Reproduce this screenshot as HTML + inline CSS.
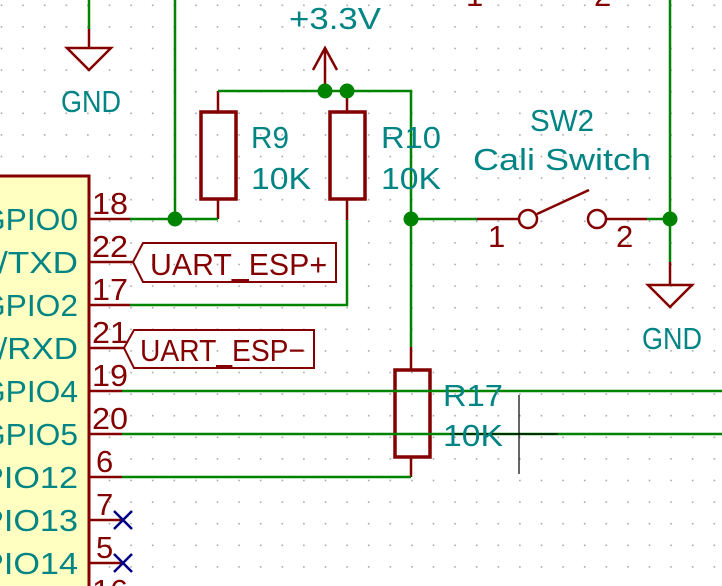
<!DOCTYPE html>
<html><head><style>html,body{margin:0;padding:0;background:#fff;}svg{display:block}</style></head>
<body>
<svg width="722" height="586" viewBox="0 0 722 586" xmlns="http://www.w3.org/2000/svg" font-family="'Liberation Sans', sans-serif">
<defs><pattern id="g" x="0.7" y="4.5" width="21.6" height="21.6" patternUnits="userSpaceOnUse"><rect x="0" y="0" width="1.6" height="1.6" fill="#a8a8a8"/></pattern></defs>
<rect width="722" height="586" fill="#fff"/>
<rect width="722" height="586" fill="url(#g)"/>
<g fill="none" stroke-linecap="butt">
<rect x="-10" y="176" width="99" height="430" fill="#ffffc2" stroke="#840000" stroke-width="3"/>
<g stroke="#840000" stroke-width="2.5">
<line x1="89" y1="219" x2="130" y2="219"/><line x1="89" y1="262" x2="133" y2="262"/>
<line x1="89" y1="305" x2="130" y2="305"/><line x1="89" y1="348" x2="124" y2="348"/>
<line x1="89" y1="391" x2="122" y2="391"/><line x1="89" y1="434" x2="122" y2="434"/>
<line x1="89" y1="477" x2="122" y2="477"/><line x1="89" y1="520" x2="123" y2="520"/>
<line x1="89" y1="563" x2="123" y2="563"/>
<line x1="89" y1="29" x2="89" y2="48"/><polygon points="67,48 111,48 89,70"/>
<line x1="218" y1="91" x2="218" y2="112"/><line x1="218" y1="199" x2="218" y2="219"/>
<rect x="201" y="112" width="35" height="87" stroke-width="3.5"/>
<line x1="347" y1="91" x2="347" y2="112"/><line x1="347" y1="199" x2="347" y2="220"/>
<rect x="330" y="112" width="35" height="87" stroke-width="3.5"/>
<line x1="325" y1="91" x2="325" y2="48"/><polyline points="313,70 325,48 337,70"/>
<line x1="411" y1="347" x2="411" y2="370"/><line x1="411" y1="457" x2="411" y2="477"/>
<rect x="395" y="370" width="35" height="87" stroke-width="3.5"/>
<line x1="477" y1="219" x2="519" y2="219"/><circle cx="528" cy="219" r="9"/>
<line x1="537" y1="214" x2="589" y2="190"/><circle cx="597" cy="219" r="9"/>
<line x1="606" y1="219" x2="647" y2="219"/>
<line x1="670" y1="262" x2="670" y2="285"/><polygon points="648,285 692,285 670,307"/>
<polygon points="133,262 143,243 336,243 336,282 143,282" stroke-width="2"/>
<polygon points="124,348 134,330 314,330 314,368 134,368" stroke-width="2"/>
</g>
<g stroke="#008400" stroke-width="2.5">
<line x1="89" y1="0" x2="89" y2="29"/>
<line x1="175" y1="0" x2="175" y2="219"/>
<polyline points="130,219 218,219"/>
<polyline points="218,91 411,91 411,347"/>
<polyline points="130,305 347,305 347,220"/>
<line x1="122" y1="391" x2="722" y2="391"/><line x1="122" y1="434" x2="722" y2="434"/>
<polyline points="122,477 411,477"/>
<line x1="411" y1="219" x2="477" y2="219"/>
<line x1="647" y1="219" x2="670" y2="219"/>
<line x1="670" y1="0" x2="670" y2="262"/>
</g>
<g fill="#008400"><circle cx="175" cy="219" r="7.5"/><circle cx="325" cy="91" r="7.5"/><circle cx="347" cy="91" r="7.5"/><circle cx="411" cy="219" r="7.5"/><circle cx="670" cy="219" r="7.5"/></g>
<g stroke="#000084" stroke-width="2.5"><path d="M114,511 l18,18 M132,511 l-18,18 M114,554 l18,18 M132,554 l-18,18"/></g>
<g stroke="#000" stroke-width="1.2"><line x1="519" y1="395" x2="519" y2="474"/><line x1="450" y1="434" x2="558" y2="434"/></g>
</g>
<g fill="#008484" font-size="31">
<text x="91" y="112" text-anchor="middle" textLength="60" lengthAdjust="spacingAndGlyphs">GND</text>
<text x="672" y="349" text-anchor="middle" textLength="60" lengthAdjust="spacingAndGlyphs">GND</text>
<text x="335" y="29" text-anchor="middle" textLength="92" lengthAdjust="spacingAndGlyphs">+3.3V</text>
<text x="251" y="148" textLength="38" lengthAdjust="spacingAndGlyphs">R9</text><text x="251" y="189" textLength="60" lengthAdjust="spacingAndGlyphs">10K</text>
<text x="381" y="148" textLength="60" lengthAdjust="spacingAndGlyphs">R10</text><text x="381" y="189" textLength="60" lengthAdjust="spacingAndGlyphs">10K</text>
<text x="443" y="406" textLength="60" lengthAdjust="spacingAndGlyphs">R17</text><text x="443" y="446" textLength="60" lengthAdjust="spacingAndGlyphs">10K</text>
<text x="562" y="131" text-anchor="middle" textLength="64" lengthAdjust="spacingAndGlyphs">SW2</text>
<text x="562" y="170" text-anchor="middle" textLength="178" lengthAdjust="spacingAndGlyphs">Cali Switch</text>
<g text-anchor="end" lengthAdjust="spacingAndGlyphs">
<text x="78" y="230" textLength="97" lengthAdjust="spacingAndGlyphs">GPIO0</text>
<text x="78" y="273" textLength="80" lengthAdjust="spacingAndGlyphs">/TXD</text>
<text x="78" y="316" textLength="97" lengthAdjust="spacingAndGlyphs">GPIO2</text>
<text x="78" y="359" textLength="80" lengthAdjust="spacingAndGlyphs">/RXD</text>
<text x="78" y="402" textLength="97" lengthAdjust="spacingAndGlyphs">GPIO4</text>
<text x="78" y="445" textLength="97" lengthAdjust="spacingAndGlyphs">GPIO5</text>
<text x="78" y="488" textLength="97" lengthAdjust="spacingAndGlyphs">PIO12</text>
<text x="78" y="531" textLength="97" lengthAdjust="spacingAndGlyphs">PIO13</text>
<text x="78" y="574" textLength="97" lengthAdjust="spacingAndGlyphs">PIO14</text>
</g>
</g>
<g fill="#840000" font-size="31">
<text x="92" y="214" textLength="36" lengthAdjust="spacingAndGlyphs">18</text>
<text x="92" y="257" textLength="36" lengthAdjust="spacingAndGlyphs">22</text>
<text x="92" y="300" textLength="36" lengthAdjust="spacingAndGlyphs">17</text>
<text x="92" y="343" textLength="36" lengthAdjust="spacingAndGlyphs">21</text>
<text x="92" y="386" textLength="36" lengthAdjust="spacingAndGlyphs">19</text>
<text x="92" y="429" textLength="36" lengthAdjust="spacingAndGlyphs">20</text>
<text x="96" y="472">6</text><text x="96" y="515">7</text><text x="96" y="558">5</text>
<text x="92" y="601" textLength="36" lengthAdjust="spacingAndGlyphs">16</text>
<text x="488" y="247">1</text><text x="616" y="247">2</text>
<text x="466" y="6">1</text><text x="594" y="6">2</text>
<text x="150" y="275" textLength="177" lengthAdjust="spacingAndGlyphs">UART_ESP+</text>
<text x="140" y="361" textLength="165" lengthAdjust="spacingAndGlyphs">UART_ESP−</text>
</g>
</svg>
</body></html>
